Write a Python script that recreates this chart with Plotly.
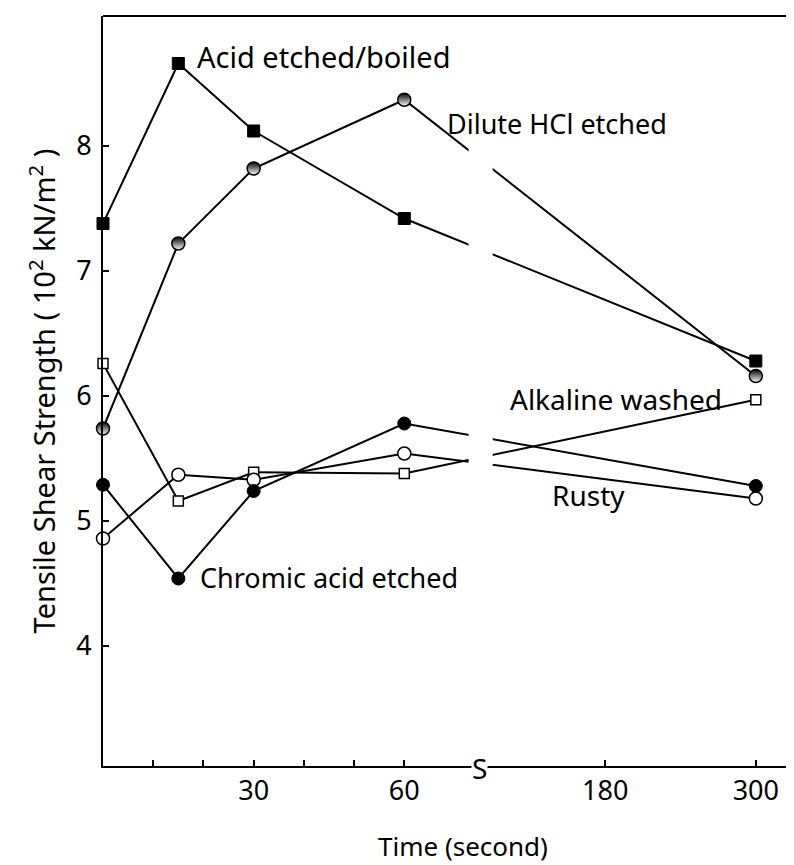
import plotly.graph_objects as go

# ---------------- data ----------------
times = [0, 15, 30, 60, 300]  # seconds

acid_etched_boiled = [7.38, 8.66, 8.12, 7.42, 6.28]
dilute_hcl_etched = [5.74, 7.22, 7.82, 8.37, 6.16]
alkaline_washed = [6.26, 5.16, 5.39, 5.38, 5.97]
rusty = [4.86, 5.37, 5.33, 5.54, 5.18]
chromic_acid_etched = [5.29, 4.54, 5.24, 5.78, 5.28]

x_tick_values = [30, 60, 180, 300]
x_tick_labels = ["30", "60", "180", "300"]
x_minor_tick_values = [10, 20, 40, 50]
y_tick_values = [4, 5, 6, 7, 8]
y_tick_labels = ["4", "5", "6", "7", "8"]

FONT = "Noto Sans"


def axis_pos(t):
    """Broken time axis: linear up to 60 s, compressed (x1/4) after the break."""
    return t if t <= 60 else 70 + (t - 60) / 4


X_RANGE = [0, 138.4]
Y_RANGE = [3.04, 9.04]
BREAK_POS = 75.0

series = [
    ("Acid etched/boiled", acid_etched_boiled,
     dict(symbol="square", size=12, color="black", line=dict(color="black", width=1))),
    ("Dilute HCl etched", dilute_hcl_etched,
     dict(symbol="circle", size=13, color="black",
          gradient=dict(type="vertical", color="white"),
          line=dict(color="black", width=1.5))),
    ("Alkaline washed", alkaline_washed,
     dict(symbol="square", size=10, color="white", line=dict(color="black", width=1.5))),
    ("Rusty", rusty,
     dict(symbol="circle", size=13, color="white", line=dict(color="black", width=1.5))),
    ("Chromic acid etched", chromic_acid_etched,
     dict(symbol="circle", size=13, color="black", line=dict(color="black", width=1))),
]

xs = [axis_pos(t) for t in times]

fig = go.Figure()
# lines first
for name, vals, mk in series:
    fig.add_trace(go.Scatter(x=xs, y=vals, mode="lines", name=name,
                             line=dict(color="black", width=2),
                             showlegend=False, hoverinfo="skip", cliponaxis=False))
# markers on top
for name, vals, mk in series:
    fig.add_trace(go.Scatter(x=xs, y=vals, mode="markers", name=name,
                             marker=mk, showlegend=False, cliponaxis=False))

# gap in the lines at the axis break
fig.add_shape(type="rect", xref="x", yref="y", x0=BREAK_POS - 2.2, x1=BREAK_POS + 2.6,
              y0=5.0, y1=8.0, fillcolor="white", line=dict(width=0), layer="above")
# frame: top and (partial) right side
fig.add_shape(type="line", xref="paper", yref="paper", x0=0, x1=1, y0=1, y1=1,
              line=dict(color="black", width=2))
fig.add_shape(type="line", xref="paper", yref="y", x0=1, x1=1, y0=4.72, y1=Y_RANGE[1],
              line=dict(color="black", width=2))

labels = [
    ("Acid etched/boiled", 18.3, 8.72, 29),
    ("Dilute HCl etched", 68.1, 8.18, 27),
    ("Alkaline washed", 80.6, 5.98, 28),
    ("Rusty", 89.0, 5.21, 28),
    ("Chromic acid etched", 18.9, 4.55, 27),
]
for text, lx, ly, fs in labels:
    fig.add_annotation(x=lx, y=ly, xref="x", yref="y", text=text, showarrow=False,
                       xanchor="left", yanchor="middle",
                       font=dict(family=FONT, size=fs, color="black"))

# axis break mark
fig.add_annotation(x=BREAK_POS, y=Y_RANGE[0], xref="x", yref="y", text="S",
                   showarrow=False, xanchor="center", yanchor="middle", yshift=-2,
                   bgcolor="white", borderpad=0,
                   font=dict(family=FONT, size=28, color="black"))

# x-axis title
fig.add_annotation(x=0.518, y=-0.106, xref="paper", yref="paper", text="Time (second)",
                   showarrow=False, xanchor="center", yanchor="middle",
                   font=dict(family=FONT, size=26, color="black"))

fig.update_layout(
    width=794, height=865,
    margin=dict(l=95, r=4, t=8, b=107),
    paper_bgcolor="white", plot_bgcolor="white",
    font=dict(family=FONT, color="black"),
    showlegend=False,
    xaxis=dict(range=X_RANGE, showline=True, linecolor="black", linewidth=2,
               ticks="inside", ticklen=6, tickwidth=1.5, tickcolor="black",
               tickvals=[axis_pos(t) for t in x_tick_values], ticktext=x_tick_labels,
               minor=dict(tickvals=[axis_pos(t) for t in x_minor_tick_values],
                          ticks="inside", ticklen=6, tickwidth=1.5, tickcolor="black",
                          showgrid=False),
               tickfont=dict(family=FONT, size=27), ticklabelstandoff=0,
               showgrid=False, zeroline=False, automargin=False),
    yaxis=dict(range=Y_RANGE, showline=True, linecolor="black", linewidth=2,
               ticks="inside", ticklen=6, tickwidth=1.5, tickcolor="black",
               tickvals=y_tick_values, ticktext=y_tick_labels,
               tickfont=dict(family=FONT, size=27), ticklabelstandoff=4,
               showgrid=False, zeroline=False, automargin=False,
               title=dict(text="Tensile Shear Strength ( 10<sup>2</sup> kN/m<sup>2</sup> )",
                          font=dict(family=FONT, size=29), standoff=12)),
)

fig.write_html("out.html")
